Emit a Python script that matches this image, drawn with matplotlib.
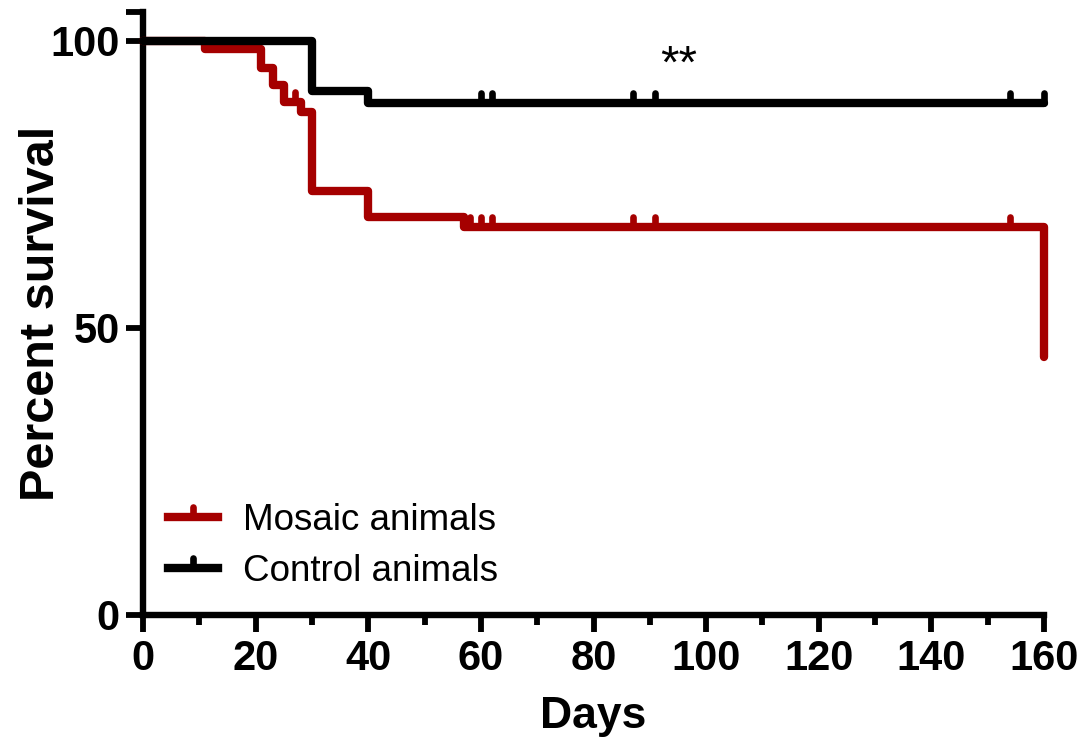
import matplotlib
matplotlib.use("Agg")
import matplotlib.pyplot as plt
from matplotlib.lines import Line2D
from matplotlib.markers import MarkerStyle, TICKUP
import numpy as np

plt.rcParams["font.family"] = ["Liberation Sans", "DejaVu Sans"]

# Kaplan-Meier steps: day of each event and survival (%) after it
mosaic_days = [0, 11, 21, 23, 25, 28, 30, 40, 57, 160]
mosaic_survival = [100, 98.6, 95.3, 92.2, 89.4, 87.6, 73.9, 69.3, 67.5, 45.0]
mosaic_censored = [27, 58, 60, 62, 87, 91, 154]

control_days = [0, 30, 40, 160]
control_survival = [100, 91.3, 89.1, 89.1]
control_censored = [60, 62, 87, 91, 154, 160]

series_labels = ["Mosaic animals", "Control animals"]
x_ticks = [0, 20, 40, 60, 80, 100, 120, 140, 160]
y_ticks = [0, 50, 100]
significance = "**"

RED = "#A50000"
BLACK = "#000000"
LW = 6.0
TICK_MARK = MarkerStyle(TICKUP, capstyle="round")
MS, MEW = 7.5, 4.8


def survival_at(days, surv, t):
    idx = np.searchsorted(days, t, side="right") - 1
    return surv[idx]


fig = plt.figure(figsize=(10.87, 7.40), dpi=100)
ax = fig.add_axes([0.1316, 0.169, 0.9604 - 0.1316, 0.9838 - 0.169])

for days, surv, cens, col, z in [
    (mosaic_days, mosaic_survival, mosaic_censored, RED, 3),
    (control_days, control_survival, control_censored, BLACK, 4),
]:
    ax.step(days, surv, where="post", color=col, lw=LW, zorder=z,
            solid_joinstyle="round", solid_capstyle="round", clip_on=False)
    cy = [survival_at(days, surv, t) for t in cens]
    ax.plot(cens, cy, linestyle="none", marker=TICK_MARK, ms=MS, mew=MEW,
            color=col, zorder=z, clip_on=False)

ax.set_xlim(0, 160)
ax.set_ylim(0, 105)

for side in ["top", "right"]:
    ax.spines[side].set_visible(False)
for side in ["left", "bottom"]:
    ax.spines[side].set_linewidth(4.6)
    ax.spines[side].set_capstyle("projecting")

ax.set_xticks(x_ticks)
ax.set_xticks([10, 30, 50, 70, 90, 110, 130, 150], minor=True)
ax.set_yticks(y_ticks + [105])
ax.set_yticklabels([str(v) for v in y_ticks] + [""])
ax.tick_params(axis="both", which="major", direction="out", length=12,
               width=4.2, labelsize=30, pad=5)
ax.tick_params(axis="x", which="minor", direction="out", length=7, width=4.2)
for lab in ax.get_xticklabels() + ax.get_yticklabels():
    lab.set_fontweight("bold")

ax.set_xlabel("Days", fontsize=32, fontweight="bold")
ax.set_ylabel("Percent survival", fontsize=35, fontweight="bold")
ax.xaxis.set_label_coords(0.5, -0.135)
ax.yaxis.set_label_coords(-0.088, 0.5)

ax.text(95.2, 95.6, significance, fontsize=34, ha="center", va="center")

handles = [
    Line2D([], [], color=RED, lw=LW, marker=TICK_MARK, ms=MS, mew=MEW),
    Line2D([], [], color=BLACK, lw=LW, marker=TICK_MARK, ms=MS, mew=MEW),
]
ax.legend(handles, series_labels, loc="upper left",
          bbox_to_anchor=(168 / 1087, 1 - 503 / 740),
          bbox_transform=fig.transFigure, frameon=False, fontsize=26.5,
          handlelength=1.35, handletextpad=0.68, labelspacing=0.44,
          borderpad=0, borderaxespad=0, numpoints=1)

fig.savefig("out.png", dpi=100)
